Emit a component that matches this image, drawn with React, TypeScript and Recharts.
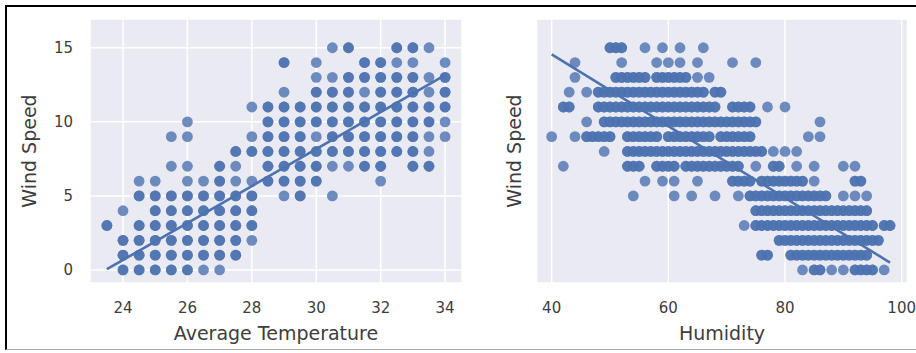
import React from "react";
import { ScatterChart, Scatter, XAxis, YAxis, CartesianGrid } from "recharts";

// --- left panel: Average Temperature vs Wind Speed ---
const tempColumns = [23.5, 24, 24.5, 25, 25.5, 26, 26.5, 27, 27.5, 28, 28.5, 29, 29.5, 30, 30.5, 31, 31.5, 32, 32.5, 33, 33.5, 34];
const windByTemp = [
  [3],
  [0, 1, 2, 4],
  [0, 1, 2, 3, 5, 6],
  [0, 1, 2, 3, 4, 5, 6],
  [0, 1, 2, 3, 4, 5, 7, 9],
  [0, 1, 2, 3, 4, 5, 6, 7, 9, 10],
  [0, 1, 2, 3, 4, 5, 6],
  [0, 1, 2, 3, 4, 5, 6, 7],
  [1, 2, 3, 4, 5, 6, 7, 8],
  [2, 3, 4, 5, 6, 8, 9, 11],
  [6, 7, 8, 9, 10, 11],
  [5, 6, 7, 8, 9, 10, 11, 12, 14],
  [5, 6, 7, 8, 9, 10, 11],
  [6, 7, 8, 9, 10, 11, 12, 13, 14],
  [5, 7, 8, 9, 10, 11, 12, 13, 15],
  [7, 8, 9, 10, 11, 12, 13, 15],
  [7, 8, 9, 10, 11, 12, 13, 14],
  [6, 7, 8, 9, 10, 11, 12, 13, 14],
  [8, 9, 10, 11, 12, 13, 14, 15],
  [7, 8, 9, 10, 11, 12, 13, 14, 15],
  [7, 8, 9, 10, 11, 12, 13, 15],
  [9, 10, 11, 12, 13, 14],
];
// cells seen only once (lighter dots); the rest hold repeated observations
const tempSingles = [
  [24, 4], [24.5, 6], [25, 6], [25.5, 7], [25.5, 9], [26, 6], [26, 7], [26, 9], [26, 10],
  [26.5, 0], [26.5, 6], [27, 0], [27.5, 6], [27.5, 7], [28, 2], [28, 6], [28, 9], [28, 11],
  [29, 5], [29, 12], [30, 9], [30, 13], [30, 14], [30.5, 5], [30.5, 7], [30.5, 13], [30.5, 15],
  [31, 7], [31.5, 12], [32, 6], [32.5, 14], [33, 14], [33.5, 8], [33.5, 9], [33.5, 12],
  [33.5, 13], [33.5, 15], [34, 9], [34, 10], [34, 14],
];
const tempFitX = [23.5, 34];
const tempFitY = [0.05, 13.15];
const tempTicks = [24, 26, 28, 30, 32, 34];

// --- right panel: Humidity vs Wind Speed ---
const windLevels = [15, 14, 13, 12, 11, 10, 9, 8, 7, 6, 5, 4, 3, 2, 1, 0];
const humidityByWind = [
  [50, 51, 52, 56, 59, 62, 66],
  [44, 52, 58, 60, 62, 65, 71, 75],
  [44, 51, 52, 53, 54, 55, 56, 58, 59, 60, 61, 62, 63, 65, 67],
  [43, 46, 48, 49, 50, 51, 52, 53, 54, 55, 56, 57, 58, 59, 60, 61, 62, 63, 64, 65, 66, 68, 69],
  [42, 43, 48, 49, 50, 51, 52, 53, 54, 55, 56, 57, 58, 59, 60, 61, 62, 63, 64, 65, 66, 67, 68, 71, 72, 73, 74, 77, 80],
  [46, 49, 50, 51, 52, 53, 54, 55, 56, 57, 58, 59, 60, 61, 62, 63, 64, 65, 66, 67, 68, 69, 70, 71, 72, 73, 74, 75, 86],
  [40, 44, 46, 47, 48, 49, 50, 53, 54, 55, 56, 57, 58, 60, 61, 62, 63, 64, 65, 66, 67, 69, 70, 71, 72, 73, 74, 84, 86],
  [49, 53, 54, 55, 56, 57, 58, 59, 60, 61, 62, 63, 64, 65, 66, 67, 68, 69, 70, 71, 72, 73, 74, 75, 76, 78, 80, 82],
  [42, 53, 54, 55, 58, 59, 60, 61, 63, 64, 65, 66, 67, 68, 69, 70, 71, 72, 75, 78, 79, 82, 85, 90, 92],
  [56, 59, 61, 65, 71, 72, 73, 74, 76, 77, 78, 79, 80, 81, 82, 83, 85, 92, 93],
  [54, 61, 64, 68, 72, 74, 75, 76, 77, 78, 79, 80, 81, 82, 83, 84, 85, 86, 87, 90, 92, 94],
  [75, 76, 77, 78, 79, 80, 81, 82, 83, 84, 85, 86, 87, 88, 89, 90, 91, 92, 93, 94],
  [73, 75, 76, 77, 78, 79, 80, 81, 82, 83, 84, 85, 86, 87, 88, 89, 90, 91, 92, 93, 94, 95, 97, 98],
  [79, 80, 81, 82, 83, 84, 85, 86, 87, 88, 89, 90, 91, 92, 93, 94, 95, 96],
  [76, 77, 81, 82, 83, 84, 85, 86, 87, 88, 89, 90, 91, 92, 93, 94],
  [83, 85, 86, 88, 90, 92, 93, 94, 95, 97],
];
const humFitX = [40, 98];
const humFitY = [14.55, 0.5];
const humTicks = [40, 60, 80, 100];

const windTicks = [0, 5, 10, 15];

const BLUE = "#4C72B0";
const TEXT = "#3d3d3d";

const singleKeys = new Set(tempSingles.map(([t, w]) => `${t}:${w}`));
const tempPoints: { x: number; y: number }[] = [];
tempColumns.forEach((t, i) => {
  windByTemp[i].forEach((w) => {
    const n = singleKeys.has(`${t}:${w}`) ? 1 : 2;
    for (let k = 0; k < n; k++) tempPoints.push({ x: t, y: w });
  });
});

// humidity readings inside a run were recorded on several days, lone ones once
const humPoints: { x: number; y: number }[] = [];
windLevels.forEach((w, i) => {
  const row = humidityByWind[i];
  row.forEach((h) => {
    const inRun = row.includes(h - 1) || row.includes(h + 1);
    const n = inRun ? 2 : 1;
    for (let k = 0; k < n; k++) humPoints.push({ x: h, y: w });
  });
});

const tempFit = tempFitX.map((x, i) => ({ x, y: tempFitY[i] }));
const humFit = humFitX.map((x, i) => ({ x, y: humFitY[i] }));

const Dot = (props: any) => (
  <circle cx={props.cx} cy={props.cy} r={5.4} fill={BLUE} fillOpacity={0.8} />
);
const NoDot = () => <g />;

const tickStyle = { fill: TEXT, fontSize: 15 };
const labelStyle = { fill: TEXT, fontSize: 19 };

export default function App() {
  return (
    <div
      style={{
        position: "absolute",
        left: 0,
        top: 0,
        width: 916,
        height: 353,
        background: "#fff",
        fontFamily: "'DejaVu Sans', sans-serif",
      }}
    >
      {/* frame around the figure */}
      <div
        style={{
          position: "absolute",
          left: 5,
          top: 5,
          width: 911,
          height: 345,
          boxSizing: "border-box",
          borderTop: "2px solid #000",
          borderLeft: "2px solid #000",
          borderBottom: "1px solid #aaa",
        }}
      />

      <div style={{ position: "absolute", left: 0, top: 0 }}>
        <ScatterChart width={462} height={353} margin={{ top: 19, right: 0, bottom: 0, left: 0 }}>
          <CartesianGrid fill="#EAEAF2" fillOpacity={1} stroke="#ffffff" strokeWidth={1.5} />
          <XAxis
            type="number"
            dataKey="x"
            domain={[22.975, 34.525]}
            allowDataOverflow
            ticks={tempTicks}
            height={70}
            axisLine={false}
            tickLine={false}
            tickSize={0}
            tickMargin={19}
            tick={tickStyle}
            label={{ value: "Average Temperature", position: "insideBottom", offset: 13, ...labelStyle }}
          />
          <YAxis
            type="number"
            dataKey="y"
            domain={[-0.88, 16.94]}
            allowDataOverflow
            ticks={windTicks}
            width={90}
            axisLine={false}
            tickLine={false}
            tickSize={0}
            tickMargin={17}
            tick={tickStyle}
            label={{
              value: "Wind Speed",
              angle: -90,
              position: "insideLeft",
              offset: 29,
              style: { textAnchor: "middle" },
              ...labelStyle,
            }}
          />
          <Scatter data={tempPoints} shape={Dot} isAnimationActive={false} />
          <Scatter
            data={tempFit}
            fill={BLUE}
            line={{ stroke: BLUE, strokeWidth: 2.6 }}
            shape={NoDot}
            isAnimationActive={false}
          />
        </ScatterChart>
      </div>

      <div style={{ position: "absolute", left: 462, top: 0 }}>
        <ScatterChart width={454} height={353} margin={{ top: 19, right: 8.5, bottom: 0, left: 0 }}>
          <CartesianGrid fill="#EAEAF2" fillOpacity={1} stroke="#ffffff" strokeWidth={1.5} />
          <XAxis
            type="number"
            dataKey="x"
            domain={[37.4, 101.0]}
            allowDataOverflow
            ticks={humTicks}
            height={70}
            axisLine={false}
            tickLine={false}
            tickSize={0}
            tickMargin={19}
            tick={tickStyle}
            label={{ value: "Humidity", position: "insideBottom", offset: 13, ...labelStyle }}
          />
          <YAxis
            type="number"
            dataKey="y"
            domain={[-0.88, 16.94]}
            allowDataOverflow
            ticks={windTicks}
            width={74.5}
            axisLine={false}
            tickLine={false}
            tick={false}
            label={{
              value: "Wind Speed",
              angle: -90,
              position: "insideLeft",
              offset: 52,
              style: { textAnchor: "middle" },
              ...labelStyle,
            }}
          />
          <Scatter data={humPoints} shape={Dot} isAnimationActive={false} />
          <Scatter
            data={humFit}
            fill={BLUE}
            line={{ stroke: BLUE, strokeWidth: 2.6 }}
            shape={NoDot}
            isAnimationActive={false}
          />
        </ScatterChart>
      </div>
    </div>
  );
}
